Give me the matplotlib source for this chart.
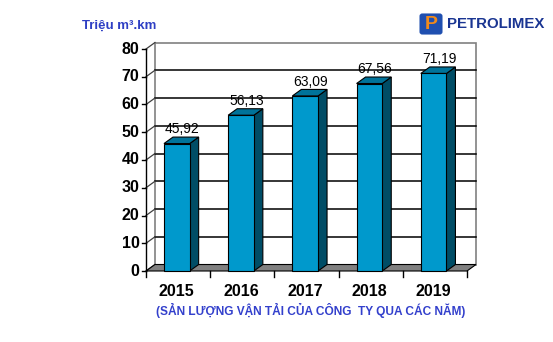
import matplotlib.pyplot as plt
from matplotlib.patches import Polygon, FancyBboxPatch, Rectangle

plt.rcParams['font.family'] = ['Liberation Sans', 'DejaVu Sans']

# data
years = ['2015', '2016', '2017', '2018', '2019']
volume = [45.92, 56.13, 63.09, 67.56, 71.19]
labels = ['45,92', '56,13', '63,09', '67,56', '71,19']
yticks = [0, 10, 20, 30, 40, 50, 60, 70, 80]

W, H = 553, 342
fig = plt.figure(figsize=(W / 100, H / 100), dpi=100)
# plot box in pixels: front axis x 146..467, y 271 (0) .. 49 (80)
ax = fig.add_axes([146 / W, (H - 271) / H, 321 / W, 222 / H])
ax.set_xlim(0, 5)
ax.set_ylim(0, 80)
ax.axis('off')

dx, dy = 0.14, 2.34   # depth offset of the 3d box
ymax = 80
front = '#0099cc'
side = '#004d66'
top = '#00739a'

# back wall
ax.add_patch(Rectangle((dx, dy), 5, ymax, facecolor='white', edgecolor='#808080',
                       lw=1.2, zorder=1, clip_on=False))
for v in yticks[1:-1]:
    ax.plot([dx, 5 + dx], [v + dy, v + dy], color='black', lw=1.1, zorder=2, clip_on=False)

# left wall diagonals and ticks
for v in yticks:
    ax.plot([0, dx], [v, v + dy], color='#404040', lw=0.9, zorder=2, clip_on=False)
    ax.plot([-0.06, 0], [v, v], color='black', lw=1.0, zorder=3, clip_on=False)
    ax.text(-0.1, v, str(v), ha='right', va='center', fontsize=11.5, fontweight='bold',
            color='black', clip_on=False)
ax.plot([0, 0], [0, ymax], color='black', lw=1.0, zorder=3, clip_on=False)

# floor
ax.add_patch(Polygon([(0, 0), (5, 0), (5 + dx, dy), (dx, dy)], closed=True,
                     facecolor='#808080', edgecolor='black', lw=0.8, zorder=2, clip_on=False))
for i in range(6):
    ax.plot([i, i], [0, -2.3], color='black', lw=1.0, zorder=3, clip_on=False)

# bars
bw = 0.4
for i, v in enumerate(volume):
    c = i + 0.48
    x0, x1 = c - bw / 2, c + bw / 2
    ax.bar(c, v, width=bw, color=front, edgecolor='black', lw=0.8, zorder=5, clip_on=False)
    ax.add_patch(Polygon([(x1, 0), (x1 + dx, dy), (x1 + dx, v + dy), (x1, v)], closed=True,
                         facecolor=side, edgecolor='black', lw=0.8, zorder=4, clip_on=False))
    ax.add_patch(Polygon([(x0, v), (x1, v), (x1 + dx, v + dy), (x0 + dx, v + dy)], closed=True,
                         facecolor=top, edgecolor='black', lw=0.8, zorder=4, clip_on=False))
    ax.text(c + dx * 0.6, v + dy + 0.3, labels[i], ha='center', va='bottom', fontsize=10,
            color='black', zorder=6)
    ax.text(c, -7.3, years[i], ha='center', va='center', fontsize=11.5, fontweight='bold',
            color='black', clip_on=False)

# captions
fig.text(82 / W, 1 - 26 / H, 'Triệu m³.km', ha='left', va='center', fontsize=9.5,
         fontweight='bold', color='#2e3fc4')
fig.text(311 / W, 1 - 310 / H, '(SẢN LƯỢNG VẬN TẢI CỦA CÔNG  TY QUA CÁC NĂM)', ha='center',
         va='center', fontsize=8.6, fontweight='bold', color='#3340cc')

# logo
lax = fig.add_axes([419 / W, 1 - 35 / H, 24 / W, 22 / H])
lax.set_xlim(0, 1)
lax.set_ylim(0, 1)
lax.axis('off')
lax.add_patch(FancyBboxPatch((0.02, 0.02), 0.96, 0.96, boxstyle='round,pad=0,rounding_size=0.12',
                             facecolor='#1f4fb0', edgecolor='none'))
lax.text(0.52, 0.47, 'P', ha='center', va='center', fontsize=14, fontweight='bold', color='#f08a1c')
fig.text(447 / W, 1 - 24 / H, 'PETROLIMEX', ha='left', va='center', fontsize=10.8,
         fontweight='bold', color='#1a3592')

fig.savefig('out.png', dpi=100)
